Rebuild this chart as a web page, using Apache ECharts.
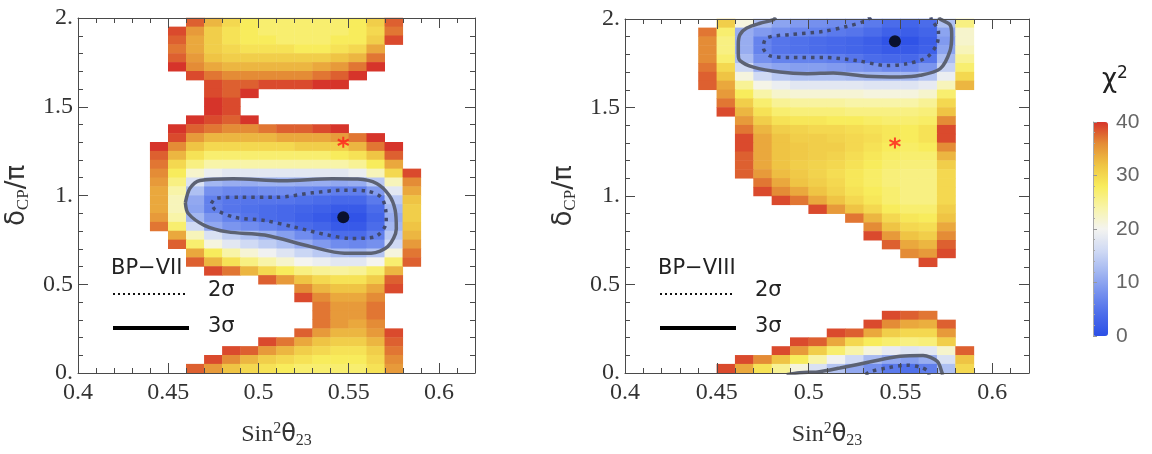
<!DOCTYPE html>
<html>
<head>
<meta charset="utf-8">
<script src="https://cdn.jsdelivr.net/npm/echarts@6/dist/echarts.min.js"></script>
<style>
  html, body { margin: 0; padding: 0; background: #fff; }
  #chart { width: 1152px; height: 454px; }
</style>
</head>
<body>
<div id="chart"></div>
<script>
// heatmap cells: centres in sin^2(theta23) and deltaCP/pi
var xCells = ['0.405','0.415','0.425','0.435','0.445','0.455','0.465','0.475','0.485','0.495','0.505',
              '0.515','0.525','0.535','0.545','0.555','0.565','0.575','0.585','0.595','0.605','0.615'];
var yCells = ['0.025','0.075','0.125','0.175','0.225','0.275','0.325','0.375','0.425','0.475',
              '0.525','0.575','0.625','0.675','0.725','0.775','0.825','0.875','0.925','0.975',
              '1.025','1.075','1.125','1.175','1.225','1.275','1.325','1.375','1.425','1.475',
              '1.525','1.575','1.625','1.675','1.725','1.775','1.825','1.875','1.925','1.975'];

// chi^2 rows, top (1.975) to bottom (0.025): [first column, values...]; cells not listed are above 40
var chiBP7 = [
  [6,38,33,30,28,27,27,27,27,27,28,31,38],
  [5,39,35,31,29,28,27,27,27,27,27,28,30,37],
  [5,38,34,31,29,28,28,27,27,27,28,28,31,39],
  [5,37,34,31,30,29,29,29,28,28,29,30,34],
  [5,38,35,32,31,31,31,31,31,31,32,33,37],
  [5,40,36,34,33,33,33,33,33,34,35,37,40],
  [6,39,37,36,36,36,36,36,37,38,40],
  [7,39,38,38,39,39,39,40,40],
  [7,39,38,40],
  [7,40,39],
  [7,40,39],
  [6,40,39,38,40],
  [5,40,38,37,36,36,37,38,38,39,40],
  [5,39,35,33,33,33,33,34,34,34,35,37,40],
  [4,40,36,32,30,30,30,30,30,31,31,31,33,37,40],
  [4,38,33,29,27,27,27,27,27,27,27,28,29,32,38],
  [4,37,30,26,24,24,24,24,24,24,24,24,25,28,34],
  [4,36,28,22,19,18,18,18,18,18,18,18,19,23,30,39],
  [4,35,26,17,12,11,11,11.5,11.5,11,11,10.5,11,14,23,36],
  [4,34,24,13,8,7,7,7.5,7.5,7,6.5,6,6,9,18,34],
  [4,34,23,10.5,6.2,5.2,5,5,5,4.5,4,3.5,3.5,5.5,14,32],
  [4,34,23,10,6.3,5,4.5,4,3.5,3,2.5,1.5,1.5,4,12,31],
  [4,35,24,12,8.5,6.5,5,4,3.5,2.5,1.5,0.3,0.6,3,11,31],
  [4,37,27,16,10.5,8.5,7.5,6.5,5.5,4,3,1.5,1.5,4,12,32],
  [5,34,23,17,14.5,13,11.5,9.5,7.5,5.5,4,4,6,14,33],
  [5,38,27,21,18,16,14.5,13,11,9,7.5,7,8,16,35],
  [6,34,28,24,21.5,19.5,17.5,15.5,14,12.5,12,13.5,21,37],
  [6,38,33,29,26,24,22,20,19,18,18,20,27,38],
  [7,39,37,33,30,28,26,25,24.5,25,27,33],
  [10,38,35,32,30,29,29,31,38],
  [12,36,33,32,32,34,39],
  [12,39,36,34,34,36],
  [13,37,35,35,37],
  [13,37,35,35,37],
  [13,37,35,34,36],
  [12,38,35,33,33,35,39],
  [10,39,37,34,32,31,31,33,38],
  [8,39,38,35,33,31,30,29,29,31,37],
  [7,39,36,33,31,30,29,28,28,28,30,36],
  [6,38,35,32,30,29,28,27,27,27,27,29,35]
];
var chiBP8 = [
  [5,31,21,12.5,10,9,8,7.5,7,5.5,4,3,4,13,26],
  [4,37,27,11,9,8,7,6.5,5.5,5,4,2.5,2,3,10,22],
  [4,36,26,11,6.5,5,4.5,4,3.5,3,2,0.5,0.5,2,9,22],
  [4,36,26,11,6.5,5,4.5,4,3.5,3,2.5,1.5,1.5,2.5,10,23],
  [4,36,27,12.5,8,6.5,6.5,6.5,6,5,4,3.5,3.5,5,12.5,25],
  [4,37,30,16,11,10,9.5,9.5,9,8.5,8,7,7,8.5,15,27],
  [4,38,32,21,16,14,13,13,13,12.5,12,12,12,13.5,19,30],
  [4,38,34,25,20.5,19,18,18,18,18,17.5,17.5,17.5,18.5,23,33],
  [5,35,28,24,22,21.5,21.5,21.5,21.5,21,21,21,22,27],
  [5,37,31,27,25,24.5,24.5,24.5,24,24,24,24,25,30],
  [5,39,33,29,27,26.5,26.5,26.5,26,26,26,26,26.5,32],
  [6,35,31,29,28.5,28.5,28,28,27.5,27,27,27.5,36],
  [6,37,33,31,30.5,30,30,29.5,29,28.5,28,29,39],
  [6,39,34,32,31,31,30.5,30,29.5,28.5,28,29,39],
  [6,39,34,32,31.5,31,31,30,29,28,27.5,28,36],
  [6,38,34,32,31.5,31,30.5,29.5,28.5,27.5,27,27,33],
  [6,38,34,32,31,30.5,30,29,28,27,26.5,26.5,31],
  [6,38,35,32.5,31.5,30.5,29.5,28.5,27.5,26.5,26,26,30],
  [7,37,34,32,31,30,28.5,27.5,26.5,26,26,30],
  [7,39,36,34,32,30.5,29,28,27,26,26,30],
  [8,39,37,34,32,30,28.5,27,26,26,30],
  [10,39,35,32,30,28,27,27,31],
  [12,37,33,30,28.5,28,32],
  [13,36,32,30,29.5,34],
  [13,39,35,32,31,36],
  [14,38,34,33,38],
  [15,36,35,39],
  [16,39],
  [], [], [], [], [],
  [14,39,38,37],
  [13,39,36,34,33.5,38],
  [11,39,38,34,31,30,30,35],
  [9,39,38,34,30,28,27,26,26.5,31],
  [8,39,35,31,27,24,21,18.5,17.5,18,22,38],
  [6,39,36,32,28,24,19.5,16,12.5,10.5,9.5,11,17,32],
  [5,39,34,29,25,21,17,13.5,10.5,8,5.5,4.5,6,13,30]
];

// contours [sin^2, deltaCP/pi]
var sigma3BP7 = [[0.4595,0.96],[0.462,1.04],[0.4676,1.085],[0.486,1.095],[0.5136,1.083],[0.541,1.095],
  [0.555,1.093],[0.5655,1.068],[0.5725,1.0],[0.5757,0.92],[0.5764,0.813],[0.5717,0.712],[0.5625,0.675],
  [0.5477,0.675],[0.529,0.712],[0.5034,0.777],[0.483,0.795],[0.470,0.832],[0.461,0.90],[0.4595,0.96]];
var sigma2BP7 = [[0.4739,0.955],[0.4765,0.985],[0.49,0.99],[0.51,0.99],[0.53,1.015],[0.547,1.03],
  [0.56,1.025],[0.568,0.99],[0.5705,0.92],[0.5708,0.85],[0.5644,0.767],[0.5514,0.758],[0.5385,0.777],
  [0.520,0.822],[0.5034,0.859],[0.4868,0.877],[0.4757,0.923],[0.4739,0.955]];
var sigma3BP8Top = [[0.482,2.01],[0.4806,1.9945],[0.4735,1.976],[0.4663,1.949],[0.4626,1.912],[0.4617,1.857],
  [0.4617,1.80],[0.4626,1.765],[0.4699,1.728],[0.4844,1.700],[0.499,1.691],[0.5134,1.695],[0.5316,1.677],
  [0.5498,1.673],[0.5607,1.682],[0.5716,1.719],[0.577,1.82],[0.5779,1.912],[0.577,1.967],[0.5716,2.0],[0.571,2.01]];
var sigma2BP8Top = [[0.534,2.01],[0.5298,1.985],[0.5208,1.958],[0.508,1.930],[0.4899,1.912],[0.4771,1.893],
  [0.4753,1.838],[0.479,1.792],[0.4899,1.783],[0.508,1.783],[0.5262,1.765],[0.5425,1.737],[0.5534,1.747],
  [0.5643,1.783],[0.5698,1.857],[0.5707,1.930],[0.5671,1.994],[0.5665,2.01]];
var sigma3BP8Bot = [[0.488,-0.01],[0.495,0.002],[0.505,0.006],[0.517,0.028],[0.535,0.066],[0.5498,0.094],
  [0.5623,0.099],[0.570,0.066],[0.5727,0.0],[0.5729,-0.01]];
var sigma2BP8Bot = [[0.531,-0.01],[0.5334,0.007],[0.5427,0.029],[0.5536,0.044],[0.5607,0.033],[0.565,0.011],[0.5656,-0.01]];

var bestFitBP7 = [0.547, 0.877];
var bestFitBP8 = [0.547, 1.874];
var truePoint = [0.547, 1.3];

var chiColors = ['#2c4fe6','#4b6cea','#7590ee','#a3b7f1','#d0daf4','#f4f4f0',
                 '#f8f4a8','#f8ec5c','#efc444','#e48c36','#d6342a'];

var frame = '#4a4a4a';
var serif = 'Liberation Serif';

function cells(rows) {
  var data = [];
  rows.forEach(function (row, k) {
    var yi = yCells.length - 1 - k;
    for (var i = 1; i < row.length; i++) {
      data.push([row[0] + i - 1, yi, row[i]]);
    }
  });
  return data;
}

var xName = '{r|Sin}{sup|2}{g|θ}{sub|23}';
var yName = '{d|δ}{sc|CP}{d|/π}';
var nameRich = {
  r: { fontFamily: serif, fontSize: 24, color: '#333', lineHeight: 28 },
  g: { fontFamily: 'DejaVu Sans', fontSize: 24, color: '#333', lineHeight: 28 },
  d: { fontFamily: 'DejaVu Sans', fontSize: 26, color: '#333', lineHeight: 30 },
  sup: { fontFamily: serif, fontSize: 16, color: '#333', verticalAlign: 'top', lineHeight: 8 },
  sub: { fontFamily: serif, fontSize: 16, color: '#333', verticalAlign: 'bottom', lineHeight: 6 },
  sc: { fontFamily: serif, fontSize: 17, color: '#333', verticalAlign: 'bottom', lineHeight: 8 }
};

function xAxes(g) {
  var base = { type: 'value', gridIndex: g, min: 0.4, max: 0.62, splitLine: { show: false }, z: 5 };
  return [
    { type: 'category', gridIndex: g, data: xCells, show: false },
    Object.assign({}, base, {
      position: 'bottom', interval: 0.01,
      axisLine: { lineStyle: { color: frame } },
      axisTick: { inside: true, length: 5, lineStyle: { color: frame } },
      axisLabel: {
        margin: 8, fontFamily: serif, fontSize: 24, color: '#333',
        formatter: function (v) {
          var h = Math.round(v * 100);
          return h % 5 === 0 ? String(h / 100) : '';
        }
      },
      name: xName, nameLocation: 'middle', nameGap: 48,
      nameTextStyle: { rich: nameRich }
    }),
    Object.assign({}, base, {
      position: 'bottom', interval: 0.05, axisLine: { show: false },
      axisTick: { inside: true, length: 10, lineStyle: { color: frame } }, axisLabel: { show: false }
    }),
    Object.assign({}, base, {
      position: 'top', interval: 0.01,
      axisLine: { lineStyle: { color: frame } },
      axisTick: { inside: true, length: 5, lineStyle: { color: frame } }, axisLabel: { show: false }
    }),
    Object.assign({}, base, {
      position: 'top', interval: 0.05, axisLine: { show: false },
      axisTick: { inside: true, length: 10, lineStyle: { color: frame } }, axisLabel: { show: false }
    })
  ];
}

function yAxes(g) {
  var base = {
    type: 'value', gridIndex: g, min: 0, max: 2, interval: 0.5, splitLine: { show: false }, z: 5,
    axisLine: { lineStyle: { color: frame } },
    axisTick: { inside: true, length: 10, lineStyle: { color: frame } },
    minorTick: { show: true, splitNumber: 5, length: 5, lineStyle: { color: frame } }
  };
  return [
    { type: 'category', gridIndex: g, data: yCells, show: false },
    Object.assign({}, base, {
      position: 'left',
      axisLabel: {
        margin: 5, fontFamily: serif, fontSize: 24, color: '#333',
        formatter: function (v) { return v % 1 === 0 ? v + '.' : String(v); }
      },
      name: yName, nameLocation: 'middle', nameGap: 46, nameRotate: 90,
      nameTextStyle: { rich: nameRich }
    }),
    Object.assign({}, base, { position: 'right', axisLabel: { show: false } })
  ];
}

function contour(data, xi, yi, dotted) {
  return {
    type: 'line', xAxisIndex: xi, yAxisIndex: yi, data: data, showSymbol: false,
    smooth: 0.3, silent: true, z: 3,
    lineStyle: dotted
      ? { color: '#414a6e', width: 3.5, type: [3.5, 5] }
      : { color: '#5c6273', width: 3.5 }
  };
}

function markers(best, xi, yi) {
  return [
    { type: 'scatter', xAxisIndex: xi, yAxisIndex: yi, data: [best], symbolSize: 12,
      itemStyle: { color: '#000' }, silent: true, z: 4 },
    { type: 'scatter', xAxisIndex: xi, yAxisIndex: yi, data: [truePoint],
      symbol: 'path://M0,-10L0,10M-8.7,-5L8.7,5M-8.7,5L8.7,-5', symbolSize: 11,
      itemStyle: { color: 'transparent', borderColor: '#ff1a1a', borderWidth: 2 }, silent: true, z: 4 }
  ];
}

function legendBlock(x0, label, y0) {
  var font = '21px "DejaVu Sans"';
  return [
    { type: 'text', x: x0 - 2, y: y0, style: { text: label, font: font, fill: '#222' } },
    { type: 'line', shape: { x1: x0, y1: y0 + 36, x2: x0 + 72, y2: y0 + 36 },
      style: { stroke: '#111', lineWidth: 2, lineDash: [2, 3] } },
    { type: 'text', x: x0 + 95, y: y0 + 33, style: { text: '2σ', font: font, fill: '#222', verticalAlign: 'middle' } },
    { type: 'line', shape: { x1: x0, y1: y0 + 70, x2: x0 + 76, y2: y0 + 70 },
      style: { stroke: '#000', lineWidth: 4 } },
    { type: 'text', x: x0 + 95, y: y0 + 69, style: { text: '3σ', font: font, fill: '#222', verticalAlign: 'middle' } }
  ];
}

var chart = echarts.init(document.getElementById('chart'));

var option = {
  animation: false,
  grid: [
    { left: 78, top: 18, width: 397, height: 363 },
    { left: 625, top: 19, width: 404, height: 363 },
    { left: 1093, top: 122, width: 15, height: 214 }
  ],
  xAxis: xAxes(0).concat(xAxes(1), [{ type: 'value', gridIndex: 2, show: false }]),
  yAxis: yAxes(0).concat(yAxes(1), [{
    type: 'value', gridIndex: 2, position: 'right', min: 0, max: 40, interval: 10, z: 5,
    splitLine: { show: false },
    axisLine: { lineStyle: { color: '#aaa' } },
    axisTick: { length: 4, lineStyle: { color: '#999' } },
    minorTick: { show: true, splitNumber: 5, length: 2, lineStyle: { color: '#aaa' } },
    axisLabel: { margin: 8, fontFamily: 'Liberation Sans', fontSize: 21, color: '#666' }
  }]),
  visualMap: {
    type: 'continuous', min: 0, max: 40, dimension: 2, seriesIndex: [0, 1],
    left: 1093, top: 122, itemWidth: 15, itemHeight: 214, padding: 0,
    calculable: false, hoverLink: false,
    inRange: { color: chiColors }
  },
  series: [
    { type: 'heatmap', xAxisIndex: 0, yAxisIndex: 0, data: cells(chiBP7), z: 1, silent: true, progressive: 0 },
    { type: 'heatmap', xAxisIndex: 5, yAxisIndex: 3, data: cells(chiBP8), z: 1, silent: true, progressive: 0 },
    contour(sigma3BP7, 1, 1, false),
    contour(sigma2BP7, 1, 1, true),
    contour(sigma3BP8Top, 6, 4, false),
    contour(sigma2BP8Top, 6, 4, true),
    contour(sigma3BP8Bot, 6, 4, false),
    contour(sigma2BP8Bot, 6, 4, true)
  ].concat(markers(bestFitBP7, 1, 1), markers(bestFitBP8, 6, 4)),
  graphic: legendBlock(113, 'BP−VII', 258).concat(legendBlock(660, 'BP−VIII', 258), [
    { type: 'text', x: 1102, y: 80,
      style: {
        text: '{a|χ}{b|2}', verticalAlign: 'middle',
        rich: {
          a: { font: '26px "DejaVu Sans"', fill: '#222', lineHeight: 30 },
          b: { font: '17px "DejaVu Sans"', fill: '#222', verticalAlign: 'top', lineHeight: 8 }
        }
      } }
  ])
};

chart.setOption(option);
</script>
</body>
</html>
